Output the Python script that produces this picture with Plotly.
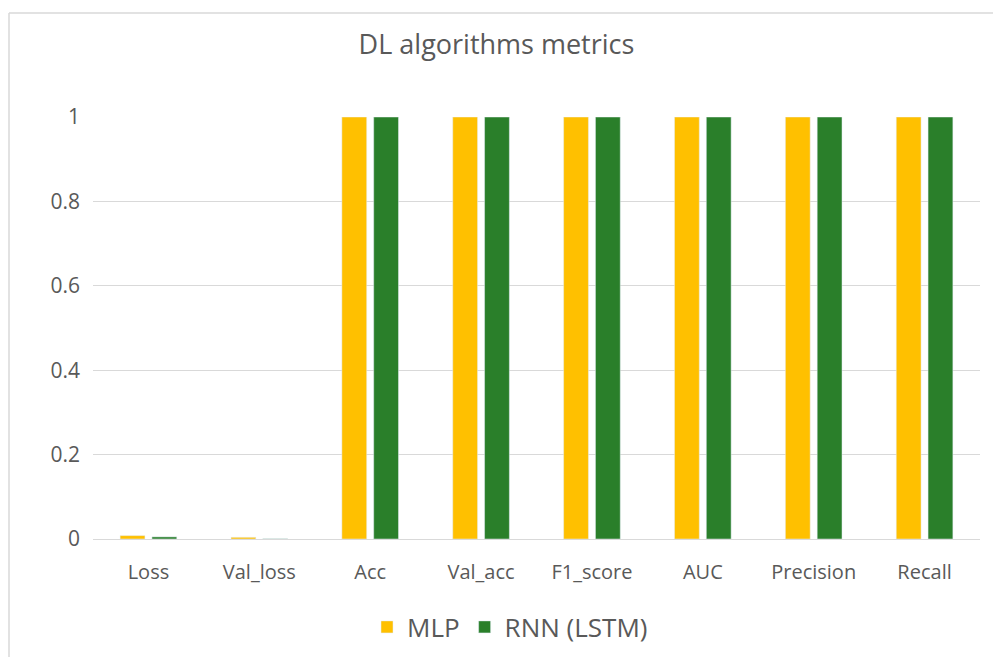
import plotly.graph_objects as go

categories = ["Loss", "Val_loss", "Acc", "Val_acc", "F1_score", "AUC", "Precision", "Recall"]
mlp = [0.008, 0.004, 1, 1, 1, 1, 1, 1]
rnn = [0.005, 0.0005, 1, 1, 1, 1, 1, 1]
y_ticks = [0, 0.2, 0.4, 0.6, 0.8, 1]
y_labels = ["0", "0.2", "0.4", "0.6", "0.8", "1"]

FONT = "Open Sans"
GRAY = "#595959"

fig = go.Figure()
fig.add_trace(go.Bar(x=categories, y=mlp, name="MLP", marker_color="#FFC000"))
fig.add_trace(go.Bar(x=categories, y=rnn, name="RNN (LSTM)", marker_color="#2A7F2A"))

L, R, T, B = 93, 13, 117, 118
W, H = 993, 657
pw, ph = W - L - R, H - T - B

def px_x(x):
    return (x - L) / pw

def px_y(y):
    return (H - B - y) / ph

fig.update_layout(
    width=W, height=H,
    margin=dict(l=L, r=R, t=T, b=B, autoexpand=False),
    paper_bgcolor="white", plot_bgcolor="white",
    barmode="group", bargap=0.426, bargroupgap=0.22,
    font=dict(family=FONT, color=GRAY, size=20),
    title=dict(text="DL algorithms metrics", x=0.5, xanchor="center",
               y=1 - 45 / H, yanchor="middle",
               font=dict(family=FONT, size=27, color=GRAY)),
    legend=dict(orientation="h", x=px_x(510), xanchor="center",
                y=px_y(627), yanchor="middle",
                font=dict(family=FONT, size=26, color=GRAY),
                itemwidth=30, traceorder="normal"),
    xaxis=dict(showgrid=False, showline=True, linecolor="#d9d9d9", linewidth=1,
               ticks="", tickfont=dict(size=20, color=GRAY), ticklabelstandoff=15),
    yaxis=dict(range=[0, 1], tickvals=y_ticks, ticktext=y_labels,
               showgrid=True, gridcolor="#d9d9d9", gridwidth=1,
               zeroline=False, showline=False, ticks="",
               tickfont=dict(size=21, color=GRAY), ticklabelstandoff=12),
    shapes=[
        dict(type="line", xref="paper", yref="paper",
             x0=px_x(9), y0=px_y(13), x1=px_x(1000), y1=px_y(13),
             line=dict(color="#d9d9d9", width=1.5)),
        dict(type="line", xref="paper", yref="paper",
             x0=px_x(9), y0=px_y(13), x1=px_x(9), y1=px_y(665),
             line=dict(color="#d9d9d9", width=1.5)),
    ],
)

fig.write_html("out.html", config={"displayModeBar": False},
               post_script="document.body.style.margin='0';document.body.style.overflow='hidden';")
